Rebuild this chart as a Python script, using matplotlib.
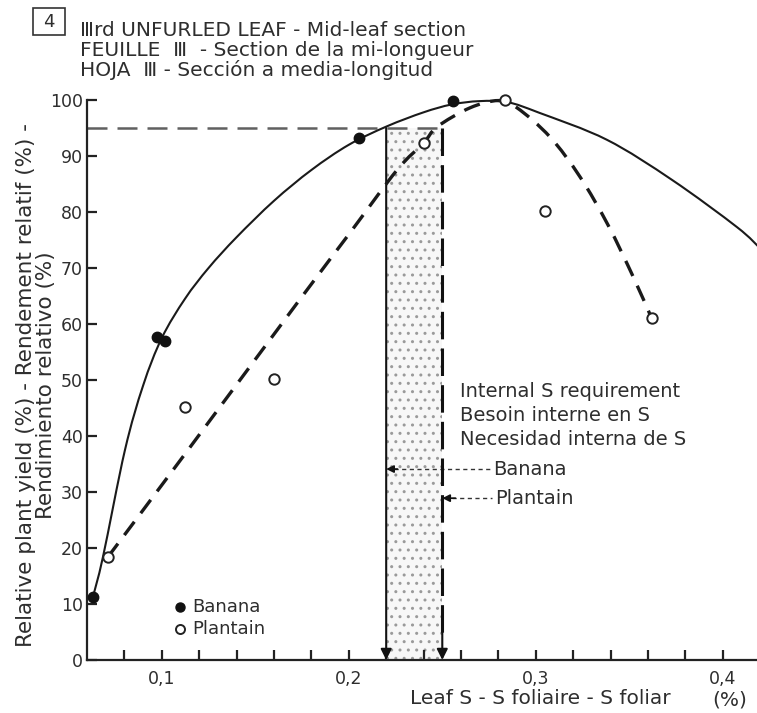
import numpy as np
import matplotlib
matplotlib.use("Agg")
import matplotlib.pyplot as plt
from matplotlib.path import Path
from matplotlib.patches import PathPatch, Rectangle

plt.rcParams['font.family'] = ['DejaVu Sans']
plt.rcParams['hatch.linewidth'] = 1.0
TXT = '#2e2e2e'

# ---------------- data ----------------
banana_x = [0.0632, 0.0974, 0.1017, 0.2055, 0.2557]
banana_y = [11.3, 57.7, 57.0, 93.2, 99.8]

plantain_x = [0.0712, 0.1124, 0.160, 0.240, 0.2835, 0.305, 0.362]
plantain_y = [18.4, 45.2, 50.2, 92.3, 100.0, 80.2, 61.0]

banana_curve_x = [0.0632, 0.0686, 0.0803, 0.090, 0.100, 0.1124, 0.125, 0.140,
                  0.160, 0.180, 0.200, 0.2204, 0.240, 0.255, 0.270, 0.285, 0.302,
                  0.338, 0.373, 0.4076, 0.420]
banana_curve_y = [11.3, 18.5, 37.5, 49.0, 57.5, 64.5, 70.0, 75.5,
                  82.0, 87.5, 92.0, 95.3, 97.8, 99.2, 99.8, 99.6, 97.7,
                  92.9, 85.7, 77.3, 73.5]

plantain_curve_x = [0.0712, 0.114, 0.1723, 0.200, 0.2258, 0.240, 0.2472, 0.2648, 0.280,
                    0.290, 0.3076, 0.3236, 0.3386, 0.352, 0.362]
plantain_curve_y = [18.4, 37.5, 63.7, 76.0, 87.5, 92.3, 95.2, 98.6, 99.9,
                    98.6, 93.4, 86.3, 77.7, 68.5, 61.0]

req_level = 95
req_banana = 0.22
req_plantain = 0.25

x_major = [0.1, 0.2, 0.3, 0.4]
x_major_labels = ['0,1', '0,2', '0,3', '0,4']
x_minor = [0.08, 0.12, 0.14, 0.16, 0.18, 0.22, 0.24, 0.26, 0.28, 0.32, 0.34, 0.36, 0.38]
y_ticks = [0, 10, 20, 30, 40, 50, 60, 70, 80, 90, 100]


def smooth_path(xs, ys):
    """Catmull-Rom spline through the read points, as cubic Bezier path."""
    pts = np.column_stack([xs, ys])
    verts = [pts[0]]
    codes = [Path.MOVETO]
    n = len(pts)
    for i in range(n - 1):
        p0 = pts[i - 1] if i > 0 else pts[i]
        p1 = pts[i]
        p2 = pts[i + 1]
        p3 = pts[i + 2] if i + 2 < n else pts[i + 1]
        c1 = p1 + (p2 - p0) / 6.0
        c2 = p2 - (p3 - p1) / 6.0
        verts += [c1, c2, p2]
        codes += [Path.CURVE4] * 3
    return Path(verts, codes)


fig = plt.figure(figsize=(7.57, 7.13), dpi=100)
ax = fig.add_axes([87 / 757, 1 - 660 / 713, 670 / 757, 560 / 713])
ax.set_xlim(0.06, 0.4183)
ax.set_ylim(0, 100)

for s in ['top', 'right']:
    ax.spines[s].set_visible(False)
for s in ['left', 'bottom']:
    ax.spines[s].set_linewidth(1.6)
    ax.spines[s].set_color('#222222')

ax.set_xticks(x_major)
ax.set_xticklabels(x_major_labels, fontsize=12.5, color=TXT)
ax.set_xticks(x_minor, minor=True)
ax.set_yticks(y_ticks)
ax.set_yticklabels([str(v) for v in y_ticks], fontsize=12.5, color=TXT)
ax.tick_params(axis='x', which='both', direction='in', length=7, width=1.6, pad=7, colors='#222222', labelcolor=TXT)
ax.tick_params(axis='y', which='both', direction='in', length=7, width=1.6, pad=3, colors='#222222', labelcolor=TXT)

# stippled requirement band
band = Rectangle((req_banana, 0), req_plantain - req_banana, req_level,
                 facecolor='#f7f7f7', edgecolor='#9a9a9a', hatch='..', linewidth=0, zorder=1)
ax.add_patch(band)

# horizontal dashed line at 95
ax.plot([0.06, req_plantain], [req_level, req_level], color='#606060', lw=1.8,
        dashes=(8, 4), zorder=2)

# vertical solid line (banana) with arrow
ax.annotate('', xy=(req_banana, 0), xytext=(req_banana, req_level),
            arrowprops=dict(arrowstyle='-|>', lw=1.5, color='#111111', mutation_scale=16,
                            shrinkA=0, shrinkB=0), zorder=3)
# vertical dashed line (plantain) with arrow
ax.plot([req_plantain, req_plantain], [req_level, 4], color='#111111', lw=2.2,
        dashes=(9, 3), zorder=3)
ax.annotate('', xy=(req_plantain, 0), xytext=(req_plantain, 5),
            arrowprops=dict(arrowstyle='-|>', lw=1.5, color='#111111', mutation_scale=16,
                            shrinkA=0, shrinkB=0), zorder=3)

# curves
ax.add_patch(PathPatch(smooth_path(banana_curve_x, banana_curve_y), facecolor='none',
                       edgecolor='#1a1a1a', lw=1.5, zorder=4, clip_on=False))
ax.add_patch(PathPatch(smooth_path(plantain_curve_x, plantain_curve_y), facecolor='none',
                       edgecolor='#1a1a1a', lw=2.4, linestyle=(0, (5, 3.2)), zorder=4,
                       clip_on=False))

# points
ax.plot(banana_x, banana_y, 'o', color='#111111', ms=7.5, zorder=6, clip_on=False)
ax.plot(plantain_x, plantain_y, 'o', mfc='white', mec='#222222', mew=1.4, ms=7.5,
        zorder=6, clip_on=False)

# legend
ax.plot([0.1097], [9.5], 'o', color='#111111', ms=6.5, clip_on=False)
ax.plot([0.1097], [5.6], 'o', mfc='white', mec='#222222', mew=1.4, ms=6.5, clip_on=False)
ax.text(0.1165, 9.5, 'Banana', fontsize=13, color=TXT, va='center')
ax.text(0.1165, 5.6, 'Plantain', fontsize=13, color=TXT, va='center')

# requirement annotation
FS = 14
ax.text(0.2595, 47.9, 'Internal S requirement', fontsize=FS, color=TXT, va='center')
ax.text(0.2595, 43.7, 'Besoin interne en S', fontsize=FS, color=TXT, va='center')
ax.text(0.2595, 39.3, 'Necesidad interna de S', fontsize=FS, color=TXT, va='center')
ax.text(0.2771, 34.1, 'Banana', fontsize=FS, color=TXT, va='center')
ax.text(0.2782, 28.9, 'Plantain', fontsize=FS, color=TXT, va='center')
ax.plot([req_banana + 0.004, 0.2755], [34.1, 34.1], color='#333333', lw=1.0, dashes=(3, 2.5))
ax.annotate('', xy=(req_banana, 34.1), xytext=(req_banana + 0.006, 34.1),
            arrowprops=dict(arrowstyle='-|>', lw=1.2, color='#111111', mutation_scale=11,
                            shrinkA=0, shrinkB=0))
ax.plot([req_plantain + 0.005, 0.2765], [28.9, 28.9], color='#333333', lw=1.0, dashes=(3, 2.5))
ax.annotate('', xy=(req_plantain, 28.9), xytext=(req_plantain + 0.007, 28.9),
            arrowprops=dict(arrowstyle='-|>', lw=1.2, color='#111111', mutation_scale=11,
                            shrinkA=0, shrinkB=0))

# axis labels
fig.text(410 / 757, 1 - 698 / 713, 'Leaf S - S foliaire - S foliar', fontsize=14.5,
         color=TXT, va='center', ha='left')
fig.text(712 / 757, 1 - 700 / 713, '(%)', fontsize=14.5, color=TXT, va='center', ha='left')
fig.text(36 / 757, 1 - 385 / 713,
         'Relative plant yield (%) - Rendement relatif (%) -\nRendimiento relativo (%)',
         rotation=90, fontsize=15.5, color=TXT, va='center', ha='center',
         multialignment='center', linespacing=0.95)

# title block
fig.patches.append(Rectangle((33 / 757, 1 - 35 / 713), 32 / 757, 27 / 713,
                             transform=fig.transFigure, fill=False, edgecolor='#333333',
                             lw=1.2))
fig.text(49 / 757, 1 - 22 / 713, '4', fontsize=13, color=TXT, ha='center', va='center')
TS = 14.5
fig.text(80 / 757, 1 - 30 / 713, 'Ⅲrd UNFURLED LEAF - Mid-leaf section', fontsize=TS,
         color=TXT, va='center')
fig.text(80 / 757, 1 - 50 / 713, 'FEUILLE  Ⅲ  - Section de la mi-longueur', fontsize=TS,
         color=TXT, va='center')
fig.text(80 / 757, 1 - 70 / 713, 'HOJA  Ⅲ - Sección a media-longitud', fontsize=TS,
         color=TXT, va='center')

fig.savefig('out.png', dpi=100)
